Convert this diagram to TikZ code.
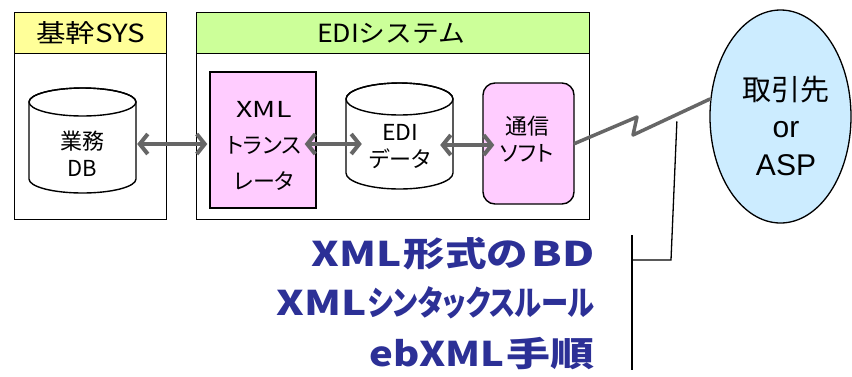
\documentclass[tikz,border=0pt]{standalone}
\usepackage{graphicx}
\usepackage{fontspec}
\setmainfont{Noto Sans CJK JP}
\newfontfamily\jp{Noto Sans CJK JP}[RawFeature=+palt]
\newfontfamily\lat{Liberation Sans}
\usetikzlibrary{arrows.meta,calc,shapes.geometric}
\definecolor{hdryellow}{RGB}{255,255,153}
\definecolor{hdrgreen}{RGB}{204,255,153}
\definecolor{boxpink}{RGB}{255,204,255}
\definecolor{ellblue}{RGB}{204,236,255}
\definecolor{arrgray}{RGB}{102,102,102}
\definecolor{txtblue}{RGB}{44,48,150}
\newcommand\fitw[2]{\resizebox{#1}{\height}{#2}}
\tikzset{
  frame/.style={draw=black, line width=1.4pt},
  hdr/.style={frame, inner sep=0pt, anchor=north west},
  body/.style={frame, fill=white, inner sep=0pt, anchor=north west},
  hdrtext/.style={font=\fontsize{25}{28}\selectfont, inner sep=0pt},
  boxtext/.style={font=\jp\fontsize{22}{27}\selectfont, align=center, inner sep=0pt},
  arr/.style={draw=arrgray, line width=4pt, {Straight Barb[length=8pt,width=20pt]}-{Straight Barb[length=8pt,width=20pt]}},
  wire/.style={draw=arrgray, line width=3.5pt, line join=round, line cap=round},
  thin/.style={draw=black, line width=1.3pt},
  bluetext/.style={font=\jp\bfseries\fontsize{34}{36}\selectfont, text=txtblue, inner sep=0pt, anchor=east},
}
\begin{document}
\begin{tikzpicture}[x=1pt,y=-1pt]
\useasboundingbox (0,0) rectangle (852,376);
% Kikan SYS
\node[body, minimum width=152pt, minimum height=166pt] (kbody) at (14,53) {};
\node[hdr, fill=hdryellow, minimum width=152pt, minimum height=41pt] (khdr) at (14,12) {};
\node[hdrtext] (ktxt) at (90.5,33) {\fitw{109pt}{基幹SYS}};
% EDI system
\node[body, minimum width=393pt, minimum height=166pt] (ebody) at (196,53) {};
\node[hdr, fill=hdrgreen, minimum width=393pt, minimum height=41pt] (ehdr) at (196,12) {};
\node[hdrtext] (etxt) at (391,33) {\fitw{148pt}{EDIシステム}};
% DB cylinder
\path[frame, fill=white] (29,102) -- (29,179) arc[start angle=180,end angle=360,x radius=53.5pt,y radius=14pt] -- (136,102) arc[start angle=0,end angle=180,x radius=53.5pt,y radius=14pt] -- cycle;
\draw[frame] (82.5,102) ellipse[x radius=53.5pt,y radius=14pt];
\node[minimum width=107pt, minimum height=105pt, inner sep=0pt] (db) at (82.5,140.5) {};
\node[boxtext] (dbtxt) at (82,154) {業務\\DB};
% XML translator
\node[frame, fill=boxpink, minimum width=106pt, minimum height=136pt, inner sep=0pt] (xml) at (263,140) {};
\node[boxtext, font=\jp\fontsize{22}{36}\selectfont] (xmltxt) at (264,146) {\fitw{55pt}{XML}\\トランス\\レータ};
% EDI data cylinder
\path[frame, fill=white] (346,99) -- (346,173) arc[start angle=180,end angle=360,x radius=53.5pt,y radius=16pt] -- (453,99) arc[start angle=0,end angle=180,x radius=53.5pt,y radius=16pt] -- cycle;
\draw[frame] (399.5,99) ellipse[x radius=53.5pt,y radius=16pt];
\node[minimum width=107pt, minimum height=106pt, inner sep=0pt] (edid) at (399.5,136) {};
\node[boxtext] (edidtxt) at (400,146.5) {\fitw{36pt}{EDI}\\データ};
% Tsushin soft
\node[frame, fill=boxpink, rounded corners=12pt, minimum width=91pt, minimum height=121pt, inner sep=0pt] (tsu) at (528.5,143.5) {};
\node[boxtext] (tsutxt) at (527,139.5) {通信\\ソフト};
% Partner ellipse
\node[draw=black, line width=1.3pt, fill=ellblue, ellipse, minimum width=141pt, minimum height=213pt, inner sep=0pt] (asp) at (780.5,116.5) {};
\node[font=\fontsize{29}{37.5}\selectfont, align=center, inner sep=0pt] (asptxt) at (786,125.5) {取引先\\{\lat\fontsize{30}{37.5}\selectfont or}\\{\lat\fontsize{30}{37.5}\selectfont ASP}};
% arrows
\draw[arr] ($(db.east)+(1,3.5)$) -- ($(xml.west)+(-2,4)$);
\draw[arr] ($(xml.east)+(-12,4)$) -- ($(edid.west)+(16,8)$);
\draw[arr] ($(edid.east)+(-13,9)$) -- ($(tsu.west)+(12,1.5)$);
% communication wire
\coordinate (k1) at (637,117);
\coordinate (k2) at (633,135);
\coordinate (ae) at (710,99);
\draw[wire] (tsu.east) -- (k1) -- (k2) -- (ae);
% bracket
\coordinate (tap) at ($(k2)!0.57!(ae)+(0,7)$);
\coordinate (bc) at (671,260);
\coordinate (bl) at (632,260);
\coordinate (vt) at (632,235);
\coordinate (vb) at (632,370);
\draw[thin] (tap) -- (bc) -- (bl);
\draw[thin] (vt) -- (vb);
% blue text
\node[bluetext] (t1) at (595,254) {\fitw{90pt}{XML}\hspace{2pt}\fitw{124pt}{形式の}\hspace{4pt}\fitw{63pt}{BD}};
\node[bluetext] (t2) at (595,303) {\fitw{90pt}{XML}\hspace{1pt}\fitw{227pt}{シンタックスルール}};
\node[bluetext] (t3) at (595,354) {\fitw{135pt}{ebXML}\hspace{2pt}\fitw{88pt}{手順}};
\end{tikzpicture}
\end{document}
